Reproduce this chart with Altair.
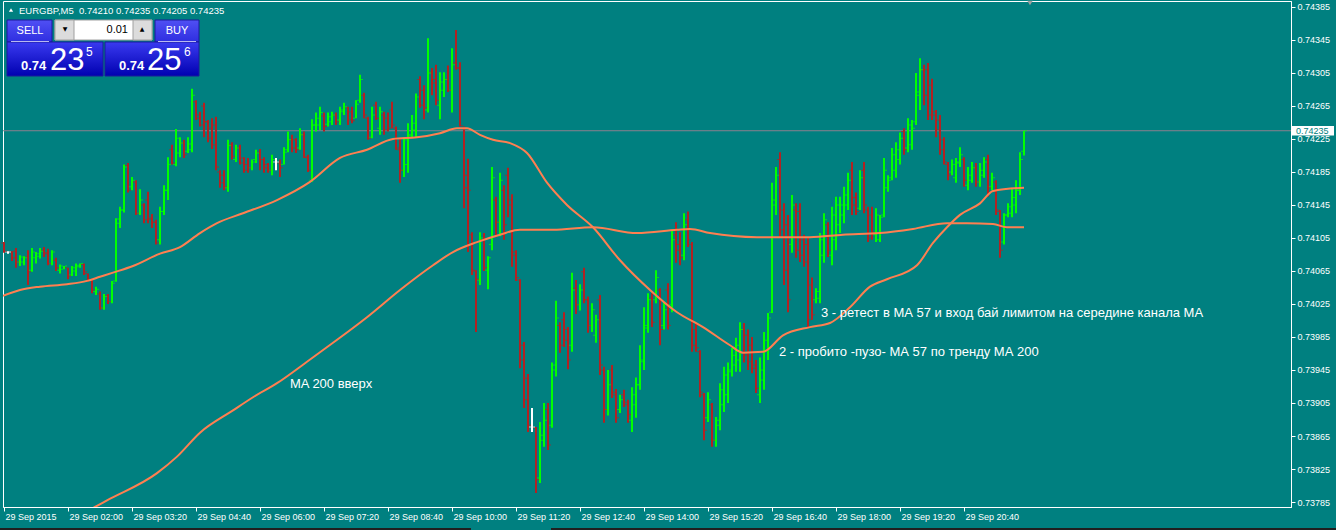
import json
import altair as alt
import pandas as pd

# ---------------- data (prices in points, 1 point = 0.00001) ----------------
HIGH = [
74100,74089,74089,74093,74084,74083,74090,74093,74088,74093,74094,74092,74090,74081,74073,74071,
74069,74071,74074,74074,74074,74062,74056,74046,74040,74037,74037,74053,74129,74143,74194,74196,
74179,74175,74164,74147,74161,74134,74127,74143,74169,74203,74218,74237,74227,74224,74227,74286,
74272,74258,74269,74248,74250,74252,74187,74187,74224,74221,74218,74218,74203,74202,74200,74212,
74213,74203,74196,74206,74202,74200,74215,74234,74230,74226,74238,74234,74206,74249,74257,74264,
74257,74257,74258,74257,74264,74269,74264,74264,74272,74303,74281,74252,74264,74270,74264,74258,
74257,74270,74240,74226,74227,74244,74254,74280,74301,74290,74347,74311,74315,74306,74306,74314,
74335,74357,74318,74240,74201,74112,74066,74112,74111,74083,74191,74155,74184,74169,74190,74158,
74090,74055,73979,73940,73899,73876,73882,73905,73905,73954,74029,74003,74015,73997,74063,74054,
74049,74069,74034,74026,74012,74036,73949,73945,73951,73922,73915,73921,73909,73924,73936,73975,
74021,74038,74038,74066,74044,74028,74050,74115,74124,74112,74135,74137,74100,74002,73969,73917,
73918,73905,73888,73929,73949,73954,73972,73984,74003,74002,73994,73985,73957,73960,73991,74014,
74172,74191,74209,74147,74133,74157,74147,74147,74109,74106,74057,74044,74111,74135,74124,74143,
74155,74155,74167,74184,74197,74160,74187,74197,74143,74143,74141,74133,74202,74181,74214,74221,
74233,74238,74250,74248,74305,74323,74315,74317,74298,74260,74254,74227,74197,74200,74202,74215,
74203,74191,74197,74196,74196,74203,74206,74184,74175,74139,74135,74147,74166,74175,74209,74235]
LOW = [
74087,74086,74077,74069,74071,74072,74048,74064,74074,74080,74082,74072,74072,74065,74062,74067,
74055,74059,74059,74069,74060,74052,74038,74036,74018,74018,74025,74026,74052,74117,74136,74160,
74163,74133,74133,74123,74123,74117,74097,74097,74133,74151,74194,74192,74203,74202,74208,74209,
74248,74240,74227,74221,74213,74187,74166,74163,74161,74200,74197,74194,74184,74184,74187,74196,
74187,74184,74184,74181,74187,74179,74194,74209,74209,74208,74212,74202,74185,74173,74234,74236,
74234,74240,74242,74242,74242,74254,74242,74244,74250,74269,74250,74224,74226,74248,74230,74230,
74234,74238,74212,74172,74179,74184,74227,74227,74263,74249,74257,74278,74266,74249,74276,74282,
74257,74309,74240,74141,74088,74060,73991,74048,74065,74043,74090,74106,74107,74103,74130,74070,
74053,73947,73899,73870,73870,73796,73808,73852,73848,73875,73937,73966,73973,73946,73967,74013,
74017,74026,73990,73991,73978,73939,73881,73890,73911,73881,73893,73900,73881,73870,73887,73921,
73945,73990,73997,74026,73975,73994,73994,74015,74075,74072,74078,74094,73967,73967,73912,73860,
73882,73852,73852,73872,73894,73905,73937,73943,73943,73954,73945,73941,73917,73905,73921,73957,
74014,74133,74106,74048,74015,74087,74081,74076,74070,73997,74006,74026,74026,74075,74082,74072,
74090,74111,74123,74139,74133,74133,74139,74135,74100,74103,74100,74100,74130,74161,74175,74178,
74194,74206,74209,74212,74242,74260,74266,74248,74248,74227,74206,74194,74175,74181,74172,74191,
74167,74163,74172,74167,74167,74178,74155,74163,74133,74081,74097,74130,74130,74135,74157,74205]
OPEN = [
74099,74088,74088,74089,74076,74076,74082,74066,74081,74083,74090,74087,74074,74078,74066,74067,
74069,74060,74065,74070,74073,74062,74054,74040,74037,74020,74035,74028,74053,74123,74139,74193,
74167,74173,74135,74145,74151,74129,74124,74103,74137,74163,74212,74194,74208,74220,74210,74212,
74270,74254,74265,74246,74238,74242,74185,74181,74166,74218,74200,74214,74202,74194,74190,74200,
74209,74200,74194,74187,74197,74196,74194,74212,74224,74224,74214,74230,74203,74175,74242,74242,
74253,74243,74246,74254,74248,74258,74263,74258,74250,74272,74278,74250,74227,74266,74238,74254,
74250,74260,74238,74212,74187,74194,74230,74236,74297,74284,74260,74306,74297,74266,74284,74297,
74284,74317,74311,74238,74181,74109,74065,74054,74103,74066,74097,74151,74124,74163,74181,74151,
74088,74054,73975,73935,73876,73875,73814,73860,73897,73878,73951,73999,74006,73994,73975,74044,
74024,74064,74030,73999,73987,74030,73945,73897,73945,73918,73897,73915,73906,73884,73903,73927,
73955,73996,74032,74030,74042,73999,74042,74024,74109,74097,74084,74127,74097,73994,73967,73915,
73887,73903,73860,73878,73903,73915,73943,73951,73957,73994,73987,73975,73951,73915,73933,73969,
74015,74145,74200,74139,74121,74097,74139,74137,74103,74097,74048,74030,74032,74084,74121,74084,
74103,74121,74133,74145,74187,74154,74141,74187,74139,74133,74109,74103,74133,74166,74178,74187,
74200,74234,74214,74218,74246,74278,74309,74309,74290,74254,74248,74224,74194,74185,74178,74197,
74200,74169,74175,74190,74173,74181,74200,74167,74173,74137,74100,74133,74135,74145,74163,74210]
CLOSE = [
74089,74088,74081,74076,74082,74081,74064,74088,74086,74089,74086,74074,74088,74069,74071,74071,
74059,74069,74072,74074,74064,74054,74042,74043,74020,74034,74028,74050,74128,74139,74191,74163,
74175,74135,74151,74127,74128,74124,74099,74137,74163,74194,74196,74226,74220,74206,74219,74278,
74250,74242,74246,74226,74218,74191,74172,74167,74217,74204,74214,74196,74187,74190,74197,74208,
74200,74190,74187,74200,74197,74190,74209,74224,74214,74212,74230,74203,74187,74242,74250,74257,
74240,74252,74254,74246,74260,74264,74248,74247,74267,74297,74254,74226,74254,74250,74258,74236,
74238,74242,74214,74187,74224,74229,74244,74276,74266,74263,74305,74293,74272,74294,74297,74284,
74315,74311,74241,74166,74163,74066,74055,74105,74069,74081,74178,74124,74175,74121,74145,74084,
74057,73957,73909,73878,73876,73812,73866,73884,73854,73945,74008,73975,73981,73957,74042,74024,
74042,74030,73999,74018,74006,73951,73897,73927,73915,73887,73909,73903,73891,73915,73927,73957,
73999,74030,74003,74057,73994,74018,73999,74103,74090,74081,74121,74103,73975,73972,73918,73872,
73909,73860,73884,73921,73939,73945,73963,73975,73994,73963,73955,73947,73923,73945,73981,74008,
74151,74181,74115,74066,74030,74145,74090,74084,74076,74006,74012,74040,74103,74127,74090,74133,
74145,74145,74157,74175,74145,74137,74178,74145,74105,74112,74133,74130,74187,74175,74206,74212,
74226,74212,74242,74238,74282,74309,74278,74254,74258,74236,74212,74197,74181,74194,74196,74206,
74175,74181,74190,74173,74187,74197,74166,74178,74139,74090,74133,74143,74154,74163,74200,74235]

# moving averages: (bar index, value)
MA57_I = [-0.25,4,9,15.75,20.75,24,27.25,32.25,39,44,49,53.25,59.75,68.25,76.5,84,90.75,97.25,
          103.25,109,113.25,115.75,119,122.25,126.5,130.75,135.75,140.75,147.25,154,161.5,168.25,
          174.75,181.5,184.75,189.75,194.75,201.5,206.5,211.5,216.5,220.75,228.25,232.25,235.75,
          239,244,247.25,255]
MA57_P = [74035,74042,74046,74049,74053,74058,74063,74071,74086,74094,74111,74123,74135,74151,
          74173,74202,74212,74225,74227,74232,74238,74238,74230,74224,74220,74208,74172,74145,
          74118,74078,74042,74015,73997,73975,73966,73967,73987,73997,74002,74021,74046,74055,
          74072,74099,74118,74133,74147,74162,74166]
MA200_I = [14,22.75,25.75,38.25,43.25,49,57.25,62.25,68.25,75.75,82.25,90.75,99,107.25,112.25,
           118.25,124,129,137.25,147.25,158.25,168.25,171.5,176.5,188.25,201.5,209.75,219,227.25,
           235.75,240.75,247.25,250.75,255]
MA200_P = [73757,73779,73787,73820,73840,73869,73896,73912,73929,73955,73978,74009,74042,74072,
           74088,74100,74109,74115,74115,74118,74111,74115,74116,74111,74106,74106,74109,74111,
           74116,74123,74123,74122,74118,74118]

TIME_TICKS = [0,16,32,48,64,80,96,112,128,144,160,176,192,208,224,240]
TIME_LABELS = ["29 Sep 2015","29 Sep 02:00","29 Sep 03:20","29 Sep 04:40","29 Sep 06:00",
               "29 Sep 07:20","29 Sep 08:40","29 Sep 10:00","29 Sep 11:20","29 Sep 12:40",
               "29 Sep 14:00","29 Sep 15:20","29 Sep 16:40","29 Sep 18:00","29 Sep 19:20",
               "29 Sep 20:40"]
PRICE_TICKS = [0.73785,0.73825,0.73865,0.73905,0.73945,0.73985,0.74025,0.74065,0.74105,
               0.74145,0.74185,0.74225,0.74265,0.74305,0.74345,0.74385]
BID = 0.74235

NOTE_I = [71.5, 193.75, 204.25]
NOTE_P = [0.73928, 0.73967, 0.74014]
NOTE_T = ["MA 200 вверх",
          "2 - пробито -пузо- МА 57 по тренду МА 200",
          "3 - ретест в МА 57 и вход бай лимитом на середине канала МА"]

# ---------------- tables ----------------
bars = pd.DataFrame({"i": range(len(HIGH)), "h": HIGH, "l": LOW, "o": OPEN, "c": CLOSE})
for k in "hloc":
    bars[k] = bars[k] / 1e5
bars["dir"] = ["up" if c > o else ("down" if c < o else "doji") for o, c in zip(bars.o, bars.c)]

ma57 = pd.DataFrame({"i": MA57_I, "p": [v / 1e5 for v in MA57_P]})
ma200 = pd.DataFrame({"i": MA200_I, "p": [v / 1e5 for v in MA200_P]})
bid = pd.DataFrame({"p": [BID], "lab": [f"{BID:.5f}"]})
notes = pd.DataFrame({"i": NOTE_I, "p": NOTE_P, "t": NOTE_T})
ONE = pd.DataFrame({"k": [0]})

TEAL = "#008080"
FONT = "Liberation Sans"
XSC = alt.Scale(domain=[-0.25, 321.75], nice=False, zero=False)
YSC = alt.Scale(domain=[0.7377894, 0.7439227], nice=False, zero=False)
XAX = alt.Axis(values=TIME_TICKS, title=None, grid=False, orient="bottom",
               labelExpr=json.dumps(TIME_LABELS) + "[round(datum.value/16)]",
               domainColor="white", tickColor="white", tickSize=4, labelColor="white",
               labelFont=FONT, labelFontSize=9, labelAlign="left", labelBaseline="top",
               labelPadding=1, labelOffset=1, labelOverlap=False, labelFlush=False)
YAX = alt.Axis(values=PRICE_TICKS, format=".5f", title=None, grid=False, orient="right",
               domainColor="white", tickColor="white", tickSize=4, labelColor="white",
               labelFont=FONT, labelFontSize=9, labelPadding=2, labelAlign="left",
               labelBaseline="middle", labelOverlap=False, labelFlush=False)
COL = alt.Color("dir:N", scale=alt.Scale(domain=["up", "down", "doji"],
                                         range=["#00ff00", "#b22222", "#ffffff"]), legend=None)


def X(f):
    return alt.X(f, type="quantitative", scale=XSC, axis=XAX)


def Y(f):
    return alt.Y(f, type="quantitative", scale=YSC, axis=YAX)


OX, OY = 3, 1  # page offset of the plot area


def R(x0, y0, x1, y1, **kw):
    return alt.Chart(ONE).mark_rect(**kw).encode(
        x=alt.value(x0 - OX), x2=alt.value(x1 - OX), y=alt.value(y0 - OY), y2=alt.value(y1 - OY))


def T(x, y, s, **kw):
    base = dict(font=FONT, color="white", align="left", baseline="middle")
    base.update(kw)
    return alt.Chart(ONE).mark_text(**base).encode(
        x=alt.value(x - OX), y=alt.value(y - OY), text=alt.value(s))


def grad(c0, c1):
    return {"gradient": "linear", "x1": 0, "y1": 0, "x2": 0, "y2": 1,
            "stops": [{"offset": 0, "color": c0}, {"offset": 1, "color": c1}]}


# ---------------- layers ----------------
bid_line = alt.Chart(bid).mark_rule(color="#8a7f8e", strokeWidth=1).encode(y=Y("p"))
hl = alt.Chart(bars).mark_rule(strokeWidth=2).encode(x=X("i"), y=Y("h"), y2="l", color=COL)
opn = alt.Chart(bars).mark_tick(orient="horizontal", size=2, thickness=1, xOffset=-2).encode(
    x=X("i"), y=Y("o"), color=COL)
cls = alt.Chart(bars).mark_tick(orient="horizontal", size=2, thickness=1, xOffset=2).encode(
    x=X("i"), y=Y("c"), color=COL)
l57 = alt.Chart(ma57).mark_line(color="#ff7f50", strokeWidth=2, clip=True,
                                interpolate="monotone").encode(x=X("i"), y=Y("p"))
l200 = alt.Chart(ma200).mark_line(color="#ff7f50", strokeWidth=2, clip=True,
                                  interpolate="monotone").encode(x=X("i"), y=Y("p"))
note = alt.Chart(notes).mark_text(font=FONT, fontSize=13, color="white", align="left",
                                  baseline="middle").encode(x=X("i"), y=Y("p"), text="t:N")

box = alt.Chart(bid).transform_calculate(
    p_hi="datum.p + 0.000058", p_lo="datum.p - 0.000058").mark_rect(color="white").encode(
    x=alt.value(1292 - OX), x2=alt.value(1334 - OX), y=Y("p_hi"), y2="p_lo")
box_t = alt.Chart(bid).mark_text(font=FONT, fontSize=9, color=TEAL, align="left",
                                 baseline="middle").encode(
    x=alt.value(1296 - OX), y=Y("p"), text="lab:N")

shift_mark = alt.Chart(ONE).mark_point(shape="triangle-down", filled=True, color="#a0a0a0",
                                       size=30, opacity=1).encode(
    x=alt.value(1030 - OX), y=alt.value(3 - OY))

header = f"EURGBP,M5\u00a0 {OPEN[-1]/1e5:.5f} {HIGH[-1]/1e5:.5f} {LOW[-1]/1e5:.5f} {CLOSE[-1]/1e5:.5f}"
hdr_tri = alt.Chart(ONE).mark_point(shape="triangle-up", filled=True, color="white", size=18,
                                    opacity=1).encode(x=alt.value(11 - OX), y=alt.value(10 - OY))

panel = [
    R(7, 20, 52, 42, color=grad("#5050f4", "#2e2ee0"), stroke="#1a1a9a", strokeWidth=1),
    R(7, 42, 103, 76, color=grad("#3a3af0", "#0000b0"), stroke="#1a1a9a", strokeWidth=1),
    R(155, 20, 199, 42, color=grad("#5050f4", "#2e2ee0"), stroke="#1a1a9a", strokeWidth=1),
    R(105, 42, 199, 76, color=grad("#3a3af0", "#0000b0"), stroke="#1a1a9a", strokeWidth=1),
    R(11, 41, 49, 42, color="#b8b8f0"),
    R(158, 41, 196, 42, color="#b8b8f0"),
    R(55, 20, 152, 40, color="#ffffff", stroke="#a0a0a0", strokeWidth=1),
    R(55, 20, 74, 40, color="#dcdcdc", stroke="#a0a0a0", strokeWidth=1),
    R(133, 20, 152, 40, color="#dcdcdc", stroke="#a0a0a0", strokeWidth=1),
    T(65, 29, "▼", font="DejaVu Sans", fontSize=6, color="black", align="center"),
    T(142, 29, "▲", font="DejaVu Sans", fontSize=6, color="black", align="center"),
    T(128, 30, "0.01", fontSize=11, color="black", align="right"),
    T(30, 31, "SELL", fontSize=11, align="center"),
    T(177, 31, "BUY", fontSize=11, align="center"),
    T(21, 70, "0.74", fontSize=13, fontWeight="bold", baseline="alphabetic"),
    T(50, 70, "23", fontSize=31, baseline="alphabetic"),
    T(86, 56, "5", fontSize=12, baseline="alphabetic"),
    T(119, 70, "0.74", fontSize=13, fontWeight="bold", baseline="alphabetic"),
    T(147, 70, "25", fontSize=31, baseline="alphabetic"),
    T(184, 56, "6", fontSize=12, baseline="alphabetic"),
    R(0, 528, 471, 530, color="#202020"),
    R(551, 528, 1336, 530, color="#202020"),
]

chart = alt.layer(
    bid_line, hl, opn, cls, l200, l57, note, box, box_t, shift_mark, hdr_tri,
    T(19, 11, header, fontSize=9.5),
    *panel,
).properties(
    width=1288, height=506,
    padding={"left": 3, "top": 1, "right": 45, "bottom": 23},
    autosize=alt.AutoSizeParams(type="none"),
).configure(background=TEAL).configure_view(stroke="white", strokeWidth=1)

chart.save("out.html", embed_options={"renderer": "svg", "actions": False})
